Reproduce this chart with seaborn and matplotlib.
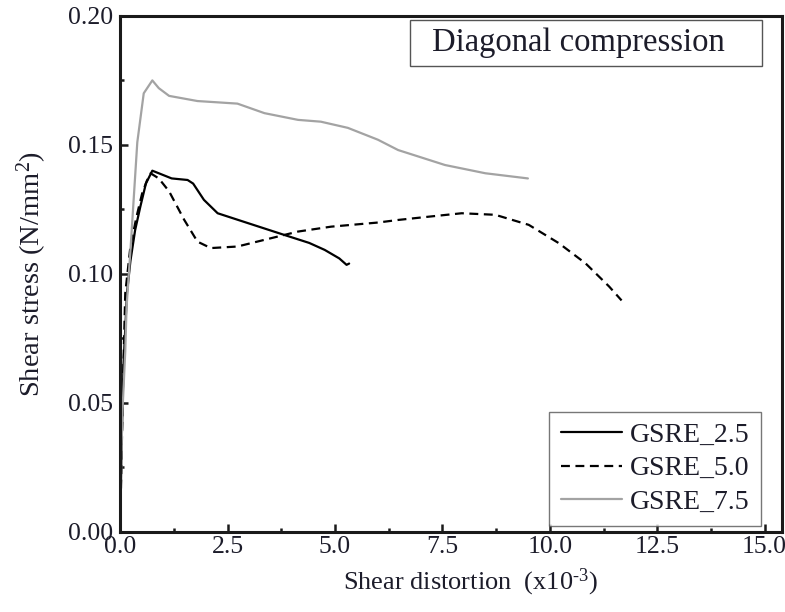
#!/usr/bin/env python3

import pandas as pd
import matplotlib
matplotlib.use('Agg')
import matplotlib.pyplot as plt
from matplotlib.ticker import MultipleLocator
from matplotlib.patches import Rectangle
import seaborn as sns

# Curve values (shear distortion x10^-3, shear stress N/mm2)
gsre25_x = [0, 0.03, 0.08, 0.16, 0.24, 0.35, 0.47, 0.6, 0.75, 0.9, 1.2, 1.57, 1.7,
            1.95, 2.27, 2.97, 3.82, 4.4, 4.76, 5.1, 5.27, 5.33]
gsre25_y = [0, 0.03, 0.065, 0.0926, 0.105, 0.117, 0.126, 0.135, 0.140, 0.139, 0.137,
            0.1364, 0.135, 0.1287, 0.1235, 0.1197, 0.1151, 0.112, 0.1093, 0.106, 0.1035, 0.104]

gsre50_x = [0, 0.03, 0.07, 0.12, 0.24, 0.38, 0.51, 0.62, 0.71, 0.9, 1.14, 1.49, 1.8,
            2.11, 2.73, 3.36, 4.14, 4.91, 6.0, 6.47, 7.2, 7.95, 8.73, 9.51, 10.21,
            10.83, 11.38, 11.67]
gsre50_y = [0, 0.025, 0.06, 0.0925, 0.1106, 0.122, 0.131, 0.136, 0.139, 0.137, 0.132,
            0.121, 0.1125, 0.110, 0.1106, 0.1132, 0.1164, 0.1183, 0.1199, 0.1209, 0.1222,
            0.1235, 0.1229, 0.119, 0.1119, 0.1041, 0.0951, 0.0897]

gsre75_x = [0, 0.02, 0.05, 0.12, 0.15, 0.24, 0.4, 0.55, 0.75, 0.9, 1.14, 1.8, 2.73,
            3.36, 4.14, 4.67, 5.3, 6.0, 6.47, 7.56, 8.5, 9.49]
gsre75_y = [0, 0.02, 0.045, 0.07, 0.087, 0.109, 0.151, 0.170, 0.175, 0.172, 0.169,
            0.167, 0.166, 0.1623, 0.1597, 0.159, 0.1566, 0.152, 0.148, 0.1422, 0.139, 0.137]

series_names = ['GSRE_2.5', 'GSRE_5.0', 'GSRE_7.5']
x_ticks = [0.0, 2.5, 5.0, 7.5, 10.0, 12.5, 15.0]
y_ticks = [0.00, 0.05, 0.10, 0.15, 0.20]

sns.set_theme(style='ticks')
plt.rcParams['font.family'] = ['Liberation Serif', 'DejaVu Serif']
plt.rcParams['mathtext.fontset'] = 'custom'
plt.rcParams['mathtext.rm'] = 'Liberation Serif'
plt.rcParams['mathtext.it'] = 'Liberation Serif:italic'
plt.rcParams['mathtext.default'] = 'rm'

text_col = '#1c1c2a'

fig = plt.figure(figsize=(7.85, 6.12), dpi=100)
ax = fig.add_axes([0.153, 0.131, 0.843, 0.843])

# Draw each curve
styles = [
    (gsre25_x, gsre25_y, 'black', None),
    (gsre50_x, gsre50_y, 'black', (4, 2.5)),
    (gsre75_x, gsre75_y, '#a3a3a3', None),
]
for name, (xs, ys, col, dash) in zip(series_names, styles):
    df = pd.DataFrame({'x': xs, 'y': ys})
    sns.lineplot(data=df, x='x', y='y', ax=ax, color=col, sort=False,
                 estimator=None, linewidth=1.6, label=name)
    if dash is not None:
        ax.lines[-1].set_dashes(dash)

ax.set_xlim(0, 15.4)
ax.set_ylim(0, 0.20)
ax.set_xticks(x_ticks)
ax.set_yticks(y_ticks)
ax.set_xticklabels([f'{v:.1f}' for v in x_ticks])
ax.set_yticklabels([f'{v:.2f}' for v in y_ticks])
ax.xaxis.set_minor_locator(MultipleLocator(1.25))
ax.yaxis.set_minor_locator(MultipleLocator(0.025))
ax.tick_params(which='both', direction='in', top=False, right=False,
               labelsize=18.5, labelcolor=text_col, width=1.8, color='#1a1a1a')
ax.tick_params(which='major', length=6)
ax.tick_params(which='minor', length=3)
ax.tick_params(axis='y', pad=5)
ax.tick_params(axis='x', pad=3)

for sp in ax.spines.values():
    sp.set_linewidth(2.2)
    sp.set_color('#1a1a1a')

ax.set_xlabel('Shear distortion  (x10$^{\\text{-}3}$)', fontsize=19, color=text_col)
ax.xaxis.set_label_coords(0.530, -0.068)
ax.set_ylabel('Shear stress (N/mm$^{2}$)', fontsize=20.5, color=text_col, labelpad=14)

leg = ax.legend(loc='lower right', bbox_to_anchor=(0.968, 0.012), fontsize=20,
                frameon=True, fancybox=False, handlelength=2.2, handletextpad=0.3,
                borderpad=0.4, labelspacing=0.28, borderaxespad=0)
leg.get_frame().set_edgecolor('#555555')
leg.get_frame().set_linewidth(1.0)
for t in leg.get_texts():
    t.set_color(text_col)

# Title box in the upper right
ax.add_patch(Rectangle((0.438, 0.903), 0.532, 0.089, transform=ax.transAxes,
                       facecolor='white', edgecolor='#555555', linewidth=1.0, zorder=5))
ax.text(0.6926, 0.948, 'Diagonal compression', transform=ax.transAxes,
        ha='center', va='center', fontsize=23.5, color=text_col, zorder=6)

plt.savefig('out.png', dpi=100)
plt.close()
